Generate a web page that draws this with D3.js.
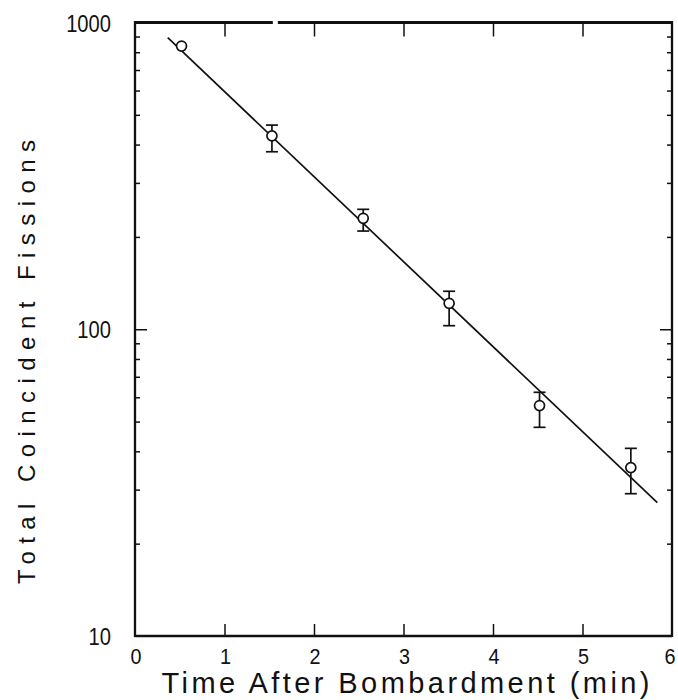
<!DOCTYPE html>
<html>
<head>
<meta charset="utf-8">
<script src="https://cdn.jsdelivr.net/npm/d3@7/dist/d3.min.js"></script>
<style>
  html, body { margin: 0; padding: 0; background: #fff; }
  svg { display: block; }
  text { font-family: "Liberation Sans", Arial, Helvetica, sans-serif; fill: #111; }
</style>
</head>
<body>
<svg id="chart" width="678" height="700"></svg>
<script>
// Measured decay of coincident fissions after bombardment
const times    = [0.52, 1.53, 2.55, 3.51, 4.52, 5.54];
const fissions = [838, 427, 230, 121.5, 56.4, 35.4];
const errHigh  = [null, 463, 246, 133, 62.3, 40.9];
const errLow   = [null, 379, 209, 102.7, 47.9, 29.1];

// Exponential fit, drawn as a straight line on the log axis
const fitTimes  = [0.366, 5.836];
const fitValues = [892, 27.2];

const xTicks = [0, 1, 2, 3, 4, 5, 6];
const yMajorTicks = [10, 100, 1000];
const yMinorTicks = [20, 30, 40, 50, 60, 70, 80, 90, 200, 300, 400, 500, 600, 700, 800, 900];

const plotLeft = 135, plotRight = 672, plotTop = 22.5, plotBottom = 636;

const svg = d3.select("#chart");
const x = d3.scaleLinear().domain([0, 6]).range([plotLeft, plotRight]);
const y = d3.scaleLog().domain([10, 1000]).range([plotBottom, plotTop]);

const ink = "#111";

// Tick marks on all four sides, pointing inward
const g = svg.append("g");
const xBottom = d3.axisBottom(x).tickValues(xTicks.slice(1, -1)).tickSize(-12).tickFormat("");
const xTop = d3.axisTop(x).tickValues(xTicks.slice(1, -1)).tickSize(-14).tickFormat("");
g.append("g").attr("transform", `translate(0,${plotBottom})`).call(xBottom);
g.append("g").attr("transform", `translate(0,${plotTop})`).call(xTop);

const yLeftMajor = d3.axisLeft(y).tickValues([100]).tickSize(-12).tickFormat("");
const yLeftMinor = d3.axisLeft(y).tickValues(yMinorTicks).tickSize(-5).tickFormat("");
const yRightMajor = d3.axisRight(y).tickValues([100]).tickSize(-12).tickFormat("");
const yRightMinor = d3.axisRight(y).tickValues(yMinorTicks).tickSize(-5).tickFormat("");
g.append("g").attr("transform", `translate(${plotLeft},0)`).call(yLeftMajor);
g.append("g").attr("transform", `translate(${plotLeft},0)`).call(yLeftMinor);
g.append("g").attr("transform", `translate(${plotRight},0)`).call(yRightMajor);
g.append("g").attr("transform", `translate(${plotRight},0)`).call(yRightMinor);
g.selectAll(".domain").remove();
g.selectAll(".tick line").attr("stroke", ink).attr("stroke-width", 1.5);

// Frame
const frame = svg.append("g").attr("stroke", ink).attr("fill", "none");
frame.append("line").attr("x1", plotLeft).attr("x2", plotRight).attr("y1", plotTop).attr("y2", plotTop)
  .attr("stroke-width", 2.8).attr("stroke-dasharray", `${x(1.54) - plotLeft} 5 1000`);
frame.append("line").attr("x1", plotLeft).attr("x2", plotRight).attr("y1", plotBottom).attr("y2", plotBottom).attr("stroke-width", 2.3);
frame.append("line").attr("x1", plotLeft).attr("x2", plotLeft).attr("y1", plotTop - 1.4).attr("y2", plotBottom + 1.1).attr("stroke-width", 2.3);
frame.append("line").attr("x1", plotRight).attr("x2", plotRight).attr("y1", plotTop - 1.4).attr("y2", plotBottom + 1.1).attr("stroke-width", 2.3);

// Tick labels
svg.append("g").selectAll("text").data(xTicks).join("text")
  .attr("transform", d => `translate(${Math.min(x(d) + 1, 670)},664) scale(0.9,1)`)
  .attr("text-anchor", "middle").attr("font-size", 22)
  .text(d => d);

svg.append("g").selectAll("text").data(yMajorTicks).join("text")
  .attr("transform", d => `translate(111,${y(d) + 9}) scale(0.84,1)`)
  .attr("text-anchor", "end").attr("font-size", 24)
  .text(d => d);

// Axis titles
svg.append("text")
  .attr("x", (plotLeft + plotRight) / 2 + 2).attr("y", 693)
  .attr("text-anchor", "middle").attr("font-size", 29)
  .attr("textLength", 488).attr("lengthAdjust", "spacing")
  .text("Time After Bombardment (min)");

svg.append("text")
  .attr("transform", "translate(35,362) rotate(-90)")
  .attr("text-anchor", "middle").attr("font-size", 24)
  .attr("textLength", 444).attr("lengthAdjust", "spacing")
  .text("Total Coincident Fissions");

// Fit line
const fit = fitTimes.map((t, i) => [t, fitValues[i]]);
svg.append("path")
  .datum(fit)
  .attr("d", d3.line().x(d => x(d[0])).y(d => y(d[1])))
  .attr("fill", "none").attr("stroke", ink).attr("stroke-width", 1.7);

// Error bars
const pts = times.map((t, i) => ({ t, v: fissions[i], hi: errHigh[i], lo: errLow[i] }));
const bars = svg.append("g").attr("stroke", ink).attr("stroke-width", 1.7);
const withErr = pts.filter(d => d.hi !== null);
bars.selectAll(".stem").data(withErr).join("line").attr("class", "stem")
  .attr("x1", d => x(d.t)).attr("x2", d => x(d.t))
  .attr("y1", d => y(d.hi)).attr("y2", d => y(d.lo));
bars.selectAll(".capHi").data(withErr).join("line").attr("class", "capHi")
  .attr("x1", d => x(d.t) - 6).attr("x2", d => x(d.t) + 6)
  .attr("y1", d => y(d.hi)).attr("y2", d => y(d.hi));
bars.selectAll(".capLo").data(withErr).join("line").attr("class", "capLo")
  .attr("x1", d => x(d.t) - 6).attr("x2", d => x(d.t) + 6)
  .attr("y1", d => y(d.lo)).attr("y2", d => y(d.lo));

// Open circle markers
svg.append("g").selectAll("circle").data(pts).join("circle")
  .attr("cx", d => x(d.t)).attr("cy", d => y(d.v)).attr("r", 5)
  .attr("fill", "#fff").attr("stroke", ink).attr("stroke-width", 1.7);
</script>
</body>
</html>
